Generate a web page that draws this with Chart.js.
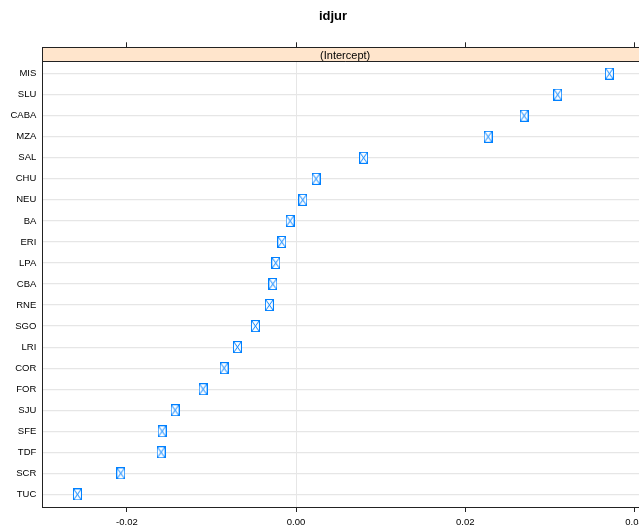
<!DOCTYPE html>
<html>
<head>
<meta charset="utf-8">
<script src="https://cdn.jsdelivr.net/npm/chart.js@4/dist/chart.umd.min.js"></script>
<style>
html,body{margin:0;padding:0;background:#fff;overflow:hidden;width:639px;height:526px;}
#wrap{width:664px;height:526px;}
</style>
</head>
<body>
<div id="wrap"><canvas id="c" width="664" height="526"></canvas></div>
<script>
// Data (top-to-bottom order as displayed)
const categories = ["MIS","SLU","CABA","MZA","SAL","CHU","NEU","BA","ERI","LPA","CBA","RNE","SGO","LRI","COR","FOR","SJU","SFE","TDF","SCR","TUC"];
const intercepts = [0.03703,0.03093,0.02695,0.02270,0.00798,0.00236,0.00079,-0.00071,-0.00169,-0.00240,-0.00275,-0.00316,-0.00481,-0.00694,-0.00851,-0.01099,-0.01430,-0.01584,-0.01596,-0.02072,-0.02585];
const xTicks = [-0.02, 0.00, 0.02, 0.04];
const titleText = "idjur";
const stripText = "(Intercept)";

const N = categories.length;
const FONT = "'Liberation Sans', Arial, Helvetica, sans-serif";
const BLUE = "#0080ff";

// marker: square with cross (lattice pch 7 look)
const mk = document.createElement('canvas');
mk.width = 9; mk.height = 12;
(function(){
  const g = mk.getContext('2d');
  g.strokeStyle = BLUE; g.lineWidth = 1;
  g.fillStyle = 'rgba(255,255,255,0.85)';
  g.fillRect(0.5,0.5,8,11);
  g.strokeRect(0.5,0.5,8,11);
  g.beginPath();
  g.moveTo(1,1); g.lineTo(8,11);
  g.moveTo(8,1); g.lineTo(1,11);
  g.stroke();
})();

const points = categories.map((c,i)=>({x: intercepts[i], y: N - i}));

const yMin = 0.4, yMaxPanel = N + 0.6;
const stripUnits = 13.7 / 21.0;
const yMax = yMaxPanel + stripUnits;

const decor = {
  id: 'decor',
  beforeDatasetsDraw(chart){
    const ctx = chart.ctx, a = chart.chartArea;
    const yS = chart.scales.y;
    const stripBottom = yS.getPixelForValue(yMaxPanel);
    ctx.save();
    ctx.fillStyle = '#ffe5cc';
    ctx.fillRect(a.left, a.top, a.right - a.left, stripBottom - a.top);
    ctx.strokeStyle = '#222';
    ctx.lineWidth = 1;
    ctx.beginPath();
    ctx.moveTo(a.left, Math.round(stripBottom)+0.5);
    ctx.lineTo(a.right, Math.round(stripBottom)+0.5);
    ctx.stroke();
    ctx.fillStyle = '#000';
    ctx.font = "11px " + FONT;
    ctx.textAlign = 'center';
    ctx.textBaseline = 'middle';
    ctx.fillText(stripText, (a.left + a.right)/2, (a.top + stripBottom)/2 + 1.5);
    ctx.restore();
  },
  afterDraw(chart){
    const ctx = chart.ctx, a = chart.chartArea;
    ctx.save();
    ctx.strokeStyle = '#222';
    ctx.lineWidth = 1;
    ctx.strokeRect(Math.round(a.left)+0.5, Math.round(a.top)+0.5, Math.round(a.right - a.left), Math.round(a.bottom - a.top));
    ctx.fillStyle = '#000';
    ctx.font = "bold 13px " + FONT;
    ctx.textAlign = 'center';
    ctx.textBaseline = 'middle';
    ctx.fillText(titleText, 333, 16);
    ctx.restore();
  }
};

new Chart(document.getElementById('c'), {
  type: 'scatter',
  data: {
    datasets: [{
      data: points,
      pointStyle: mk,
      pointRadius: 5,
      pointHoverRadius: 5
    }]
  },
  options: {
    responsive: false,
    animation: false,
    events: [],
    layout: { padding: { left: 0, right: 16, top: 42.3, bottom: 0 } },
    plugins: { legend: { display: false }, tooltip: { enabled: false } },
    scales: {
      x: {
        type: 'linear', position: 'bottom',
        min: -0.0300, max: 0.0416,
        afterBuildTicks(s){ s.ticks = xTicks.map(v=>({value:v})); },
        afterFit(s){ s.height = 19.0; },
        ticks: {
          autoSkip: false, maxRotation: 0, padding: 4.5,
          color: '#000', font: { size: 9.5, family: FONT },
          callback: v => v.toFixed(2)
        },
        grid: {
          drawOnChartArea: true,
          color: ctx => (ctx.tick && ctx.tick.value === 0) ? '#e6e6e6' : 'rgba(0,0,0,0)',
          tickColor: '#222', tickLength: 5, lineWidth: 1
        },
        border: { display: false }
      },
      x2: {
        type: 'linear', position: 'top',
        min: -0.0300, max: 0.0416,
        afterBuildTicks(s){ s.ticks = xTicks.map(v=>({value:v})); },
        afterFit(s){ s.height = 5; },
        ticks: { display: false },
        grid: { drawOnChartArea: false, tickColor: '#222', tickLength: 5 },
        border: { display: false }
      },
      y: {
        type: 'linear',
        min: yMin, max: yMax,
        afterBuildTicks(s){ s.ticks = categories.map((c,i)=>({value: N - i})); },
        afterFit(s){ s.width = 42.3; },
        ticks: {
          autoSkip: false, padding: 6,
          color: '#000', font: { size: 9.5, family: FONT },
          callback: v => categories[N - v]
        },
        grid: { drawTicks: false, color: '#e6e6e6', lineWidth: 1.2 },
        border: { display: false }
      }
    }
  },
  plugins: [decor]
});
</script>
</body>
</html>
